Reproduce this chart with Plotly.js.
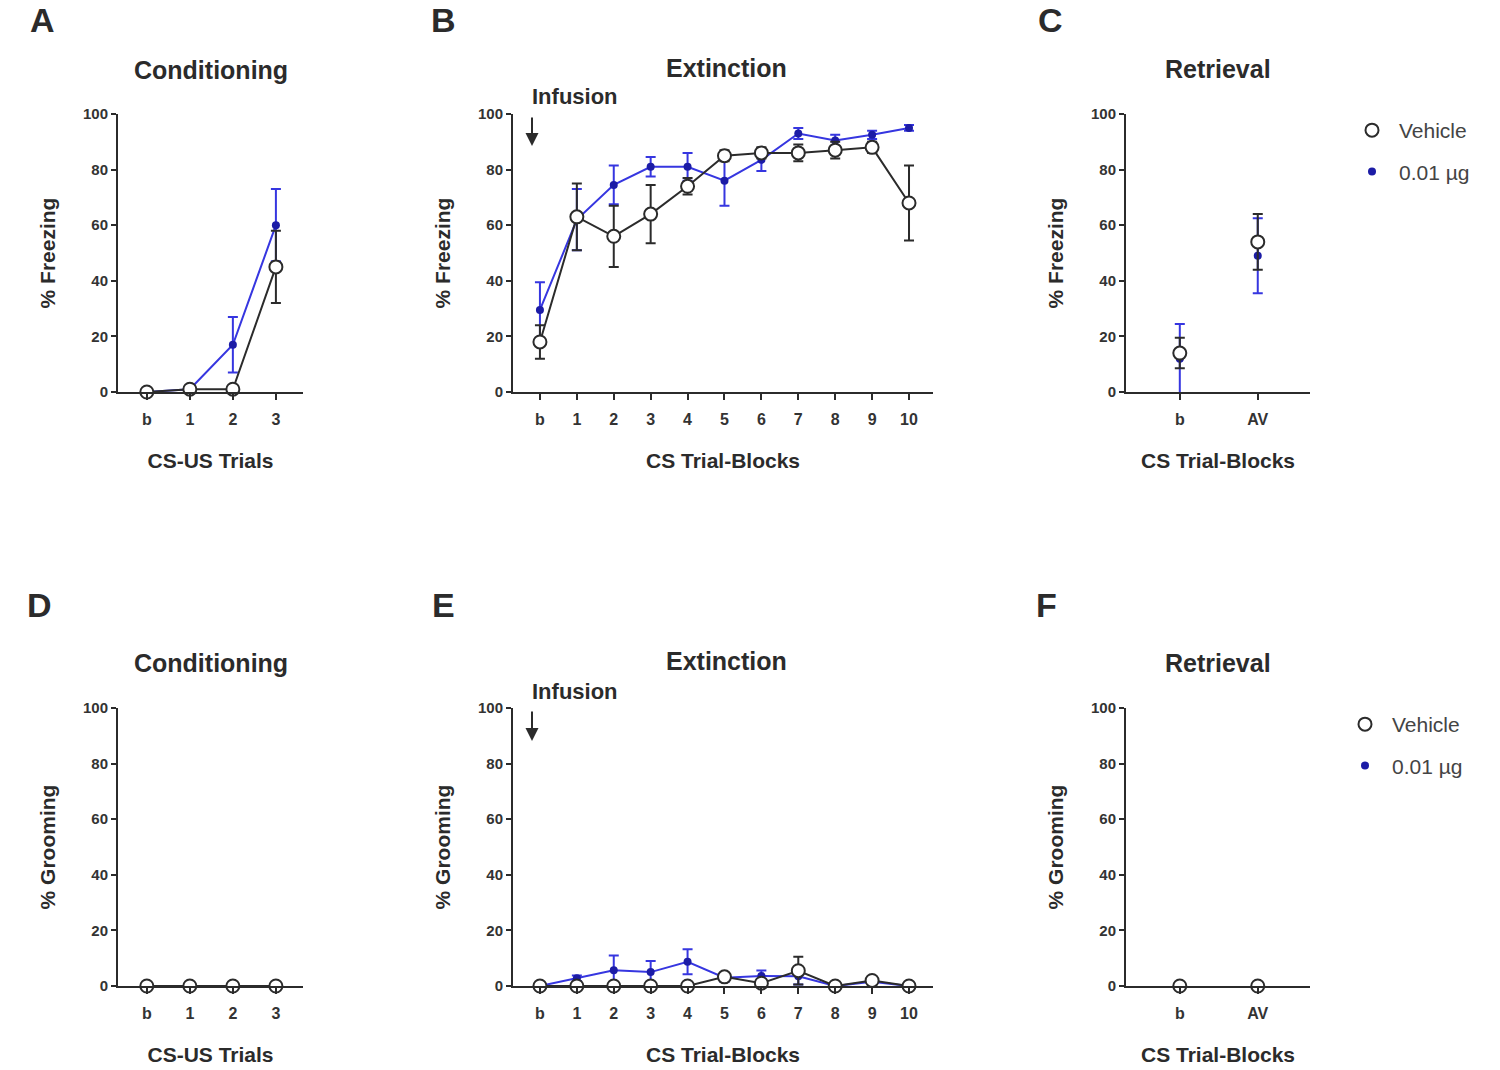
<!DOCTYPE html>
<html>
<head>
<meta charset="utf-8">
<script src="https://cdn.plot.ly/plotly-3.0.1.min.js"></script>
<style>
  body { margin: 0; background: #fff; }
  #chart { width: 1500px; height: 1070px; }
</style>
</head>
<body>
<div id="chart"></div>
<script>
// tick labels
var condLabels = ['b', '1', '2', '3'];
var blockLabels = ['b', '1', '2', '3', '4', '5', '6', '7', '8', '9', '10'];
var retLabels = ['b', 'AV'];

// % Freezing (mean, sem)
var condFreezeVeh = [0, 1, 1, 45];
var condFreezeVehErr = [0, 0.5, 1, 13];
var condFreezeDrug = [0, 1, 17, 60];
var condFreezeDrugErr = [0, 0.5, 10, 13];

var extFreezeVeh = [18, 63, 56, 64, 74, 85, 86, 86, 87, 88, 68];
var extFreezeVehErr = [6, 12, 11, 10.5, 3, 2, 2, 3, 3, 2, 13.5];
var extFreezeDrug = [29.5, 62, 74.5, 81, 81, 76, 83.5, 93, 90.5, 92.5, 95];
var extFreezeDrugErr = [10, 11, 7, 3.5, 5, 9, 4, 2, 2, 1.5, 1];

var retFreezeVeh = [14, 54];
var retFreezeVehErr = [5.5, 10];
var retFreezeDrug = [12, 49];
var retFreezeDrugErr = [12.5, 13.5];

// % Grooming (mean, sem)
var condGroomVeh = [0, 0, 0, 0];
var condGroomDrug = [0, 0, 0, 0];

var extGroomVeh = [0, 0, 0, 0, 0, 3.3, 1, 5.5, 0, 2, 0];
var extGroomVehErr = [0, 0, 0, 0, 0, 1, 1, 5, 0, 1, 0];
var extGroomDrug = [0, 2.8, 5.7, 5, 8.7, 3, 3.6, 3.5, 0, 1.5, 0];
var extGroomDrugErr = [0, 1, 5.3, 4, 4.5, 1.5, 2, 3, 0, 1, 0];

var retGroomVeh = [0, 0];
var retGroomDrug = [0, 0];

var W = 1500, H = 1070;
var FONT = '"Liberation Sans", Arial, sans-serif';
var BLUE_LINE = '#3636e0';
var BLUE_DOT = '#1c1ca6';
var INK = '#2b2b2b';

function px(x) { return x / W; }
function py(y) { return 1 - y / H; }

// drug traces go first so the open vehicle circles sit on top
function drugTrace(x, y, err, ax, withLine, leg) {
  return {
    x: x, y: y, xaxis: 'x' + ax, yaxis: 'y' + ax,
    type: 'scatter', mode: withLine ? 'lines+markers' : 'markers',
    name: '0.01 µg', legend: leg || 'legend', showlegend: !!leg,
    legendgroup: 'drug', legendrank: 2, cliponaxis: false,
    line: { color: BLUE_LINE, width: 2 },
    marker: { color: BLUE_DOT, size: 8, symbol: 'circle' },
    error_y: err ? { type: 'data', array: err, visible: true, color: BLUE_LINE, thickness: 2, width: 5 } : { visible: false }
  };
}

function vehTrace(x, y, err, ax, withLine, leg) {
  return {
    x: x, y: y, xaxis: 'x' + ax, yaxis: 'y' + ax,
    type: 'scatter', mode: withLine ? 'lines+markers' : 'markers',
    name: 'Vehicle', legend: leg || 'legend', showlegend: !!leg,
    legendgroup: 'veh', legendrank: 1, cliponaxis: false,
    line: { color: INK, width: 2 },
    marker: { color: '#ffffff', size: 13, symbol: 'circle', line: { color: INK, width: 2 } },
    error_y: err ? { type: 'data', array: err, visible: true, color: INK, thickness: 2, width: 5 } : { visible: false }
  };
}

var data = [
  drugTrace(condLabels, condFreezeDrug, condFreezeDrugErr, '', true),
  vehTrace(condLabels, condFreezeVeh, condFreezeVehErr, '', true),
  drugTrace(blockLabels, extFreezeDrug, extFreezeDrugErr, '2', true),
  vehTrace(blockLabels, extFreezeVeh, extFreezeVehErr, '2', true),
  drugTrace(retLabels, retFreezeDrug, retFreezeDrugErr, '3', false, 'legend'),
  vehTrace(retLabels, retFreezeVeh, retFreezeVehErr, '3', false, 'legend'),
  drugTrace(condLabels, condGroomDrug, null, '4', true),
  vehTrace(condLabels, condGroomVeh, null, '4', true),
  drugTrace(blockLabels, extGroomDrug, extGroomDrugErr, '5', true),
  vehTrace(blockLabels, extGroomVeh, extGroomVehErr, '5', true),
  drugTrace(retLabels, retGroomDrug, null, '6', false, 'legend2'),
  vehTrace(retLabels, retGroomVeh, null, '6', false, 'legend2')
];

function xAxis(left, right, range, title, yName) {
  return {
    type: 'category', domain: [px(left), px(right)], range: range,
    anchor: yName, showgrid: false, zeroline: false,
    showline: true, linecolor: INK, linewidth: 2,
    ticks: 'outside', ticklen: 6, tickwidth: 2, tickcolor: INK,
    ticklabelstandoff: 6,
    tickfont: { family: FONT, size: 16, color: '#333', weight: 'bold' },
    title: { text: title, standoff: 26, font: { family: FONT, size: 21, color: INK, weight: 'bold' } }
  };
}

function yAxis(top, bottom, title, xName) {
  return {
    domain: [py(bottom), py(top)], range: [0, 100],
    anchor: xName, showgrid: false, zeroline: false,
    showline: true, linecolor: INK, linewidth: 2,
    tickvals: [0, 20, 40, 60, 80, 100],
    ticks: 'outside', ticklen: 5, tickwidth: 2, tickcolor: INK,
    tickfont: { family: FONT, size: 15, color: '#333', weight: 'bold' },
    title: { text: title, standoff: 22, font: { family: FONT, size: 21, color: INK, weight: 'bold' } }
  };
}

var topT = 114, topB = 392, botT = 708, botB = 986;
var condR = [-0.67, 3.63], extR = [-0.73, 10.65], retR = [-0.69, 1.67];

function textAnn(x, y, text, size) {
  return {
    xref: 'paper', yref: 'paper', x: px(x), y: py(y),
    xanchor: 'center', yanchor: 'middle', showarrow: false,
    text: text, font: { family: FONT, size: size, color: INK, weight: 'bold' }
  };
}

function arrowAnn(x, y0, y1) {
  return {
    xref: 'paper', yref: 'paper', x: px(x), y: py(y1),
    axref: 'pixel', ayref: 'pixel', ax: 0, ay: -(y1 - y0),
    showarrow: true, arrowhead: 2, arrowsize: 1.3, arrowwidth: 2, arrowcolor: INK, text: ''
  };
}

var annotations = [
  textAnn(42, 20, 'A', 34), textAnn(443, 20, 'B', 34), textAnn(1050, 20, 'C', 34),
  textAnn(39, 605, 'D', 34), textAnn(443, 605, 'E', 34), textAnn(1046, 605, 'F', 34),
  textAnn(211, 70, 'Conditioning', 25), textAnn(726, 68, 'Extinction', 25), textAnn(1218, 69, 'Retrieval', 25),
  textAnn(211, 663, 'Conditioning', 25), textAnn(726, 661, 'Extinction', 25), textAnn(1218, 663, 'Retrieval', 25),
  textAnn(575, 97, 'Infusion', 22), arrowAnn(532, 116, 146),
  textAnn(575, 691, 'Infusion', 22), arrowAnn(532, 710, 741)
];

function legendAt(x, y) {
  return {
    x: px(x), y: py(y), xanchor: 'left', yanchor: 'top',
    font: { family: FONT, size: 21, color: '#444' },
    bgcolor: 'rgba(0,0,0,0)', traceorder: 'grouped',
    itemwidth: 44, tracegroupgap: 11
  };
}

var layout = {
  width: W, height: H,
  margin: { l: 0, r: 0, t: 0, b: 0 },
  paper_bgcolor: '#fff', plot_bgcolor: '#fff',
  font: { family: FONT, color: INK },
  xaxis: xAxis(118, 303, condR, 'CS-US Trials', 'y'),
  yaxis: yAxis(topT, topB, '% Freezing', 'x'),
  xaxis2: xAxis(513, 933, extR, 'CS Trial-Blocks', 'y2'),
  yaxis2: yAxis(topT, topB, '% Freezing', 'x2'),
  xaxis3: xAxis(1126, 1310, retR, 'CS Trial-Blocks', 'y3'),
  yaxis3: yAxis(topT, topB, '% Freezing', 'x3'),
  xaxis4: xAxis(118, 303, condR, 'CS-US Trials', 'y4'),
  yaxis4: yAxis(botT, botB, '% Grooming', 'x4'),
  xaxis5: xAxis(513, 933, extR, 'CS Trial-Blocks', 'y5'),
  yaxis5: yAxis(botT, botB, '% Grooming', 'x5'),
  xaxis6: xAxis(1126, 1310, retR, 'CS Trial-Blocks', 'y6'),
  yaxis6: yAxis(botT, botB, '% Grooming', 'x6'),
  legend: legendAt(1345, 110),
  legend2: legendAt(1338, 704),
  annotations: annotations,
  showlegend: true
};

Plotly.newPlot('chart', data, layout, { displayModeBar: false, staticPlot: true });
</script>
</body>
</html>
